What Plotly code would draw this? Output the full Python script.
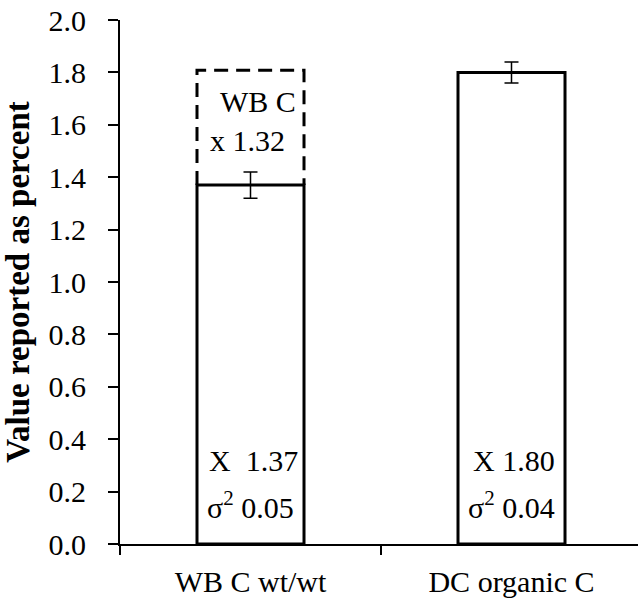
import plotly.graph_objects as go

categories = ["WB C wt/wt", "DC organic C"]
means = [1.37, 1.80]
errors = [0.05, 0.04]
variances = [0.05, 0.04]
factor = 1.32
factor_label = "WB C"

FONT = "Liberation Serif"
bar_w = 0.41
xpos = [0, 1]

fig = go.Figure()
fig.add_trace(go.Bar(
    x=xpos, y=means, width=bar_w,
    marker=dict(color="white", line=dict(color="black", width=3)),
    error_y=dict(type="data", array=errors, color="black", thickness=1.5, width=7),
    showlegend=False, hoverinfo="skip",
))

# dashed box showing WB C scaled by factor
c = xpos[0]
top = means[0] * factor
fig.add_trace(go.Scatter(
    x=[c - bar_w / 2, c - bar_w / 2, c + bar_w / 2, c + bar_w / 2],
    y=[means[0], top, top, means[0]],
    mode="lines", line=dict(color="black", width=3, dash="14px,8px"),
    showlegend=False, hoverinfo="skip",
))

# invisible trace for the boundary-tick axis
fig.add_trace(go.Scatter(x=[-0.5], y=[0], xaxis="x2", mode="markers",
                         marker=dict(opacity=0), showlegend=False, hoverinfo="skip"))

ann_font = dict(family=FONT, size=30, color="black")
for i, x in enumerate(xpos):
    sp = "&nbsp;&nbsp;" if i == 0 else "&nbsp;"
    fig.add_annotation(x=x + 0.01, y=0.32, text=f"X{sp}{means[i]:.2f}", showarrow=False, font=ann_font)
    fig.add_annotation(x=x, y=0.15, text=f"σ<sup>2</sup> {variances[i]:.2f}", showarrow=False, font=ann_font)

fig.add_annotation(x=c + 0.03, y=1.69, text=factor_label, showarrow=False, font=ann_font)
fig.add_annotation(x=c - 0.01, y=1.54, text=f"x {factor:.2f}", showarrow=False, font=ann_font)

plot_px = 518
cat_px = 261
xr = [-0.5, -0.5 + plot_px / cat_px]

fig.update_layout(
    width=638, height=600,
    margin=dict(l=120, r=0, t=20, b=56),
    plot_bgcolor="white", paper_bgcolor="white",
    font=dict(family=FONT, size=30, color="black"),
    xaxis=dict(range=xr, tickvals=xpos, ticktext=categories, ticks="",
               showline=True, linecolor="black", linewidth=2, showgrid=False,
               zeroline=False, tickfont=dict(family=FONT, size=30), ticklabelstandoff=10),
    xaxis2=dict(range=xr, overlaying="x", anchor="y", side="bottom",
                tickvals=[-0.5, 0.5], ticks="outside", ticklen=10, tickwidth=2,
                tickcolor="black", showticklabels=False, showline=False,
                showgrid=False, zeroline=False),
    yaxis=dict(range=[0, 2.0], dtick=0.2, tickformat=".1f", ticks="outside",
               ticklen=10, tickwidth=2, tickcolor="black",
               showline=True, linecolor="black", linewidth=2, showgrid=False,
               zeroline=False, tickfont=dict(family=FONT, size=30), ticklabelstandoff=16,
               title=dict(text="<b>Value reported as percent</b>",
                          font=dict(family=FONT, size=33), standoff=10)),
)

fig.write_html("out.html")
